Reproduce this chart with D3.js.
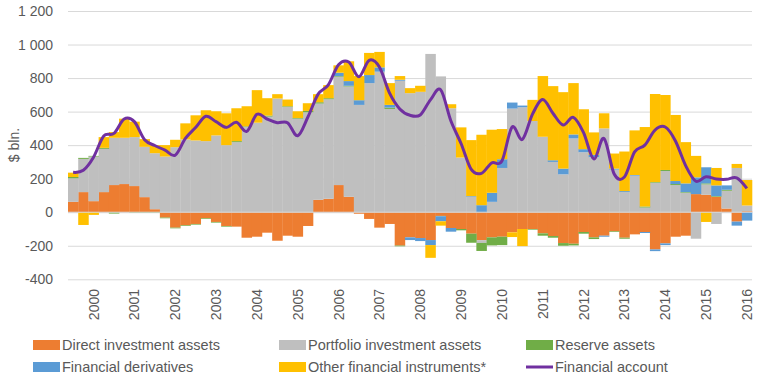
<!DOCTYPE html>
<html>
  <head>
    <meta charset="utf-8">
    <title>Financial account</title>
    <script src="https://cdn.jsdelivr.net/npm/d3@7"></script>
    <style>
      body { margin: 0; background: #fff; }
      svg { font-family: "Liberation Sans", Arial, sans-serif; fill: #595959; }
      .tick text, .label, .legend text { fill: #595959; }
    </style>
  </head>

  <body>
    <svg id="chart" width="762" height="381"></svg>

    <script>
      // data (USD bln, quarterly)
      quarters = [
        "1999Q3", "1999Q4",
        "2000Q1", "2000Q2", "2000Q3", "2000Q4", "2001Q1", "2001Q2", "2001Q3", "2001Q4",
        "2002Q1", "2002Q2", "2002Q3", "2002Q4", "2003Q1", "2003Q2", "2003Q3", "2003Q4",
        "2004Q1", "2004Q2", "2004Q3", "2004Q4", "2005Q1", "2005Q2", "2005Q3", "2005Q4",
        "2006Q1", "2006Q2", "2006Q3", "2006Q4", "2007Q1", "2007Q2", "2007Q3", "2007Q4",
        "2008Q1", "2008Q2", "2008Q3", "2008Q4", "2009Q1", "2009Q2", "2009Q3", "2009Q4",
        "2010Q1", "2010Q2", "2010Q3", "2010Q4", "2011Q1", "2011Q2", "2011Q3", "2011Q4",
        "2012Q1", "2012Q2", "2012Q3", "2012Q4", "2013Q1", "2013Q2", "2013Q3", "2013Q4",
        "2014Q1", "2014Q2", "2014Q3", "2014Q4", "2015Q1", "2015Q2", "2015Q3", "2015Q4",
        "2016Q1"
      ];
      yearLabels = ["2000", "2001", "2002", "2003", "2004", "2005", "2006", "2007", "2008",
        "2009", "2010", "2011", "2012", "2013", "2014", "2015", "2016"];
      yTicks = [-400, -200, 0, 200, 400, 600, 800, 1000, 1200];

      direct = [62, 120, 66, 120, 162, 168, 156, 90, 18, -32,
        -92, -78, -70, -36, -58, -82, -86, -152, -146, -122,
        -170, -140, -146, -82, 74, 80, 162, 92, -9, -40,
        -92, -70, -199, -150, -154, -166, -22, -94, -100, -128,
        -167, -150, -146, -120, -100, -100, -126, -142, -184, -188,
        -118, -150, -140, -114, -152, -132, -118, -222, -186, -146,
        -140, 108, 104, 92, 22, -56, 6];
      portfolio = [140, 198, 266, 258, 282, 276, 292, 300, 334, 332,
        388, 434, 428, 424, 458, 400, 418, 508, 534, 570,
        678, 628, 558, 596, 574, 594, 646, 658, 640, 770,
        838, 616, 784, 710, 718, 944, 810, 620, 326, 92,
        -16, 62, 264, 618, 626, 544, 450, 300, 226, 440,
        358, 328, 500, 254, 120, 218, 28, 176, 246, 162,
        116, -158, 62, -70, 106, 264, 34];
      reserve = [8, 6, 4, 6, -8, 0, -4, -4, -4, -4,
        -4, -4, -4, -4, -4, -4, 6, 4, 0, 6,
        0, 4, 4, 8, 8, 6, 4, 4, 0, 0,
        0, 8, -4, 0, 0, 0, -2, 0, -8, -54,
        -48, -48, -50, 0, 0, -4, -14, -10, -16, -10,
        -10, -10, 0, -4, -6, 0, 6, 4, 6, 6,
        4, 0, 6, 4, 6, 0, 0];
      derivatives = [0, 0, 0, 0, 0, 0, 0, 0, 0, 0,
        0, 0, 0, 0, 0, 0, 0, 0, 0, 0,
        0, 0, 0, 0, 0, 0, 20, 28, 28, 48,
        26, 16, 6, -16, -18, -30, -30, -22, 0, 4,
        42, 54, 52, 36, 10, 0, 0, 10, 34, 24,
        18, 14, -6, 6, 6, 4, -6, -10, -10, 18,
        52, 100, 96, 64, 26, -24, -50];
      other = [26, -76, -16, 64, 34, 114, 92, 46, 48, 68,
        44, 96, 150, 184, 144, 190, 196, 120, 194, 104,
        26, 40, 40, 46, 48, 78, 44, 118, 144, 132,
        92, 130, 22, 30, 36, -76, -26, 24, 180, 334,
        420, 376, 180, -28, -102, 126, 362, 442, 456, 306,
        238, 134, 90, 90, 236, 266, 474, 525, 447, 394,
        246, 128, -58, 104, 0, 24, 152];
      account = [238, 250, 328, 455, 470, 556, 540, 432, 398, 370,
        340, 440, 505, 572, 540, 506, 536, 482, 584, 556,
        534, 534, 456, 568, 704, 760, 880, 896, 808, 906,
        866, 710, 616, 578, 580, 670, 730, 545, 410, 255,
        232, 294, 305, 508, 434, 585, 672, 590, 520, 566,
        475, 318, 440, 228, 210, 360, 400, 490, 508, 425,
        278, 185, 212, 198, 196, 205, 142];

      keys = ["direct", "portfolio", "reserve", "derivatives", "other"];
      names = ["Direct investment assets", "Portfolio investment assets", "Reserve assets",
        "Financial derivatives", "Other financial instruments*", "Financial account"];
      colours = ["#ed7d31", "#bfbfbf", "#70ad47", "#5b9bd5", "#ffc000", "#7030a0"];

      chartData = quarters.map((q, i) => ({
        quarter: q,
        direct: direct[i],
        portfolio: portfolio[i],
        reserve: reserve[i],
        derivatives: derivatives[i],
        other: other[i],
        account: account[i]
      }));

      // elements
      chart = d3.select("#chart");
      margin = { top: 11, right: 10, bottom: 102, left: 68 };
      width = 762;
      height = 381;

      x = d3.scaleBand()
        .domain(quarters)
        .range([margin.left, width - margin.right])
        .padding(0);

      y = d3.scaleLinear()
        .domain([-400, 1200])
        .range([279.3, margin.top]);

      colour = d3.scaleOrdinal().domain(keys).range(colours);

      locale = d3.formatLocale({ decimal: ".", thousands: " ", grouping: [3], currency: ["", ""], minus: "-" });

      // gridlines + y labels
      axis = d3.axisLeft(y)
        .tickValues(yTicks)
        .tickFormat(locale.format(","))
        .tickSizeInner(margin.left + margin.right - width)
        .tickSizeOuter(0)
        .tickPadding(15);

      chart.append("g")
        .attr("transform", "translate(" + margin.left + ",0)")
        .call(axis)
        .call(g => g.select(".domain").remove())
        .call(g => g.selectAll(".tick line").attr("stroke", "#d9d9d9"))
        .call(g => g.selectAll(".tick text")
          .style("font-size", "14px")
          .attr("font-family", null));

      chart.append("text")
        .attr("class", "label")
        .attr("transform", "translate(19,145) rotate(-90)")
        .attr("text-anchor", "middle")
        .style("font-size", "14px")
        .text("$ bln.");

      // stacked bars
      series = d3.stack()
        .keys(keys)
        .offset(d3.stackOffsetDiverging)(chartData);

      chart.append("g")
        .selectAll("g")
        .data(series)
        .join("g")
          .attr("fill", d => colour(d.key))
        .selectAll("rect")
        .data(d => d)
        .join("rect")
          .attr("x", d => x(d.data.quarter))
          .attr("width", x.bandwidth() + 0.3)
          .attr("y", d => y(Math.max(d[0], d[1])))
          .attr("height", d => Math.abs(y(d[0]) - y(d[1])));

      // horizontal axis line
      chart.append("line")
        .attr("x1", margin.left)
        .attr("x2", width - margin.right)
        .attr("y1", y(0))
        .attr("y2", y(0))
        .attr("stroke", "#d9d9d9")
        .attr("stroke-width", 1);

      // year labels
      chart.append("g")
        .selectAll("text")
        .data(yearLabels)
        .join("text")
          .attr("transform", d => "translate(" + (x(d + "Q1") + x.bandwidth() / 2 + 5) + ",289) rotate(-90)")
          .attr("text-anchor", "end")
          .style("font-size", "14px")
          .text(d => d);

      // financial account line
      line = d3.line()
        .x(d => x(d.quarter) + x.bandwidth() / 2)
        .y(d => y(d.account))
        .curve(d3.curveCardinal.tension(0));

      chart.append("path")
        .datum(chartData)
        .attr("fill", "none")
        .attr("stroke", colours[5])
        .attr("stroke-width", 3)
        .attr("stroke-linejoin", "round")
        .attr("d", line);

      // legend
      legendPos = [[33, 345], [279, 345], [526, 345], [33, 367], [279, 367], [526, 367]];
      legendOrder = [0, 1, 2, 3, 4, 5];

      legend = chart.append("g")
        .attr("class", "legend")
        .selectAll("g")
        .data(legendOrder)
        .join("g")
          .attr("transform", i => "translate(" + legendPos[i][0] + "," + legendPos[i][1] + ")");

      legend.filter(i => i < 5)
        .append("rect")
          .attr("x", 0)
          .attr("y", -5)
          .attr("width", 27)
          .attr("height", 10)
          .attr("fill", i => colours[i]);

      legend.filter(i => i == 5)
        .append("line")
          .attr("x1", 0)
          .attr("x2", 27)
          .attr("stroke", colours[5])
          .attr("stroke-width", 3);

      legend.append("text")
        .attr("x", 29)
        .attr("dy", "0.35em")
        .style("font-size", "14.5px")
        .text(i => names[i]);
    </script>
  </body>
</html>
